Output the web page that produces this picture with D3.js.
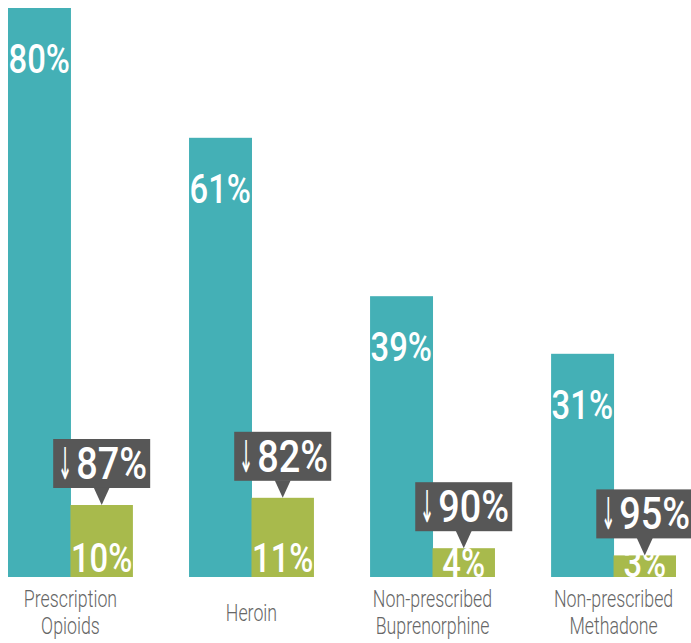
<!DOCTYPE html>
<html>
<head>
<meta charset="utf-8">
<script src="https://cdn.jsdelivr.net/npm/d3@7"></script>
<style>
  body { margin: 0; background: #fff; }
  text { font-family: Roboto, "Open Sans", sans-serif; }
</style>
</head>
<body>
<svg id="chart"></svg>
<script>
// data
const categories = ["Prescription Opioids", "Heroin", "Non-prescribed Buprenorphine", "Non-prescribed Methadone"];
const beforeValues = [80, 61, 39, 31];
const afterValues = [10, 11, 4, 3];
const dropValues = [87, 82, 90, 95];

const width = 691;
const height = 643;
const teal = '#44b0b6';
const green = '#a8ba4c';
const boxColor = '#575757';

const svg = d3.select('#chart')
    .attr('width', width)
    .attr('height', height);

const x = d3.scaleBand()
    .domain(categories)
    .range([8, 676])
    .paddingInner(0.31);

const xs = d3.scaleBand()
    .domain(['before', 'after'])
    .range([0, x.bandwidth()]);

const y = d3.scaleLinear()
    .domain([0, 80])
    .range([577, 1]);

// the picture is cut off a few pixels above the tallest bar
const plotTop = 8;
svg.append('clipPath').attr('id', 'clip')
    .append('rect')
    .attr('x', 0)
    .attr('y', plotTop)
    .attr('width', width)
    .attr('height', y(0) - plotTop);

const plot = svg.append('g').attr('clip-path', 'url(#clip)');

function scaledText(sel, cx, by, sx) {
    return sel.append('text')
        .attr('transform', `translate(${cx},${by}) scale(${sx},1)`)
        .attr('text-anchor', 'middle');
}

categories.forEach(function(cat, i) {
    const bx = x(cat) + xs('before');
    const ax = x(cat) + xs('after');
    const bw = xs.bandwidth();

    plot.append('rect')
        .attr('x', bx)
        .attr('y', y(beforeValues[i]))
        .attr('width', bw + 0.5)
        .attr('height', y(0) - y(beforeValues[i]))
        .attr('fill', teal);

    plot.append('rect')
        .attr('x', ax)
        .attr('y', y(afterValues[i]))
        .attr('width', bw)
        .attr('height', y(0) - y(afterValues[i]))
        .attr('fill', green);

    // value labels
    scaledText(plot, bx + bw / 2, Math.max(y(beforeValues[i]), plotTop) + 65, 0.8)
        .attr('fill', '#fff')
        .style('font-size', '41px')
        .style('font-weight', 500)
        .text(beforeValues[i] + '%');

    const gh = y(0) - y(afterValues[i]);
    scaledText(plot, ax + bw / 2, gh < 35 ? y(0) : y(0) - 5, 0.8)
        .attr('fill', '#fff')
        .style('font-size', '41px')
        .style('font-weight', 500)
        .text(afterValues[i] + '%');

    // callout with the drop
    const cx = ax + bw / 2;
    const tip = y(afterValues[i]);
    const boxW = 97, boxH = 49, tri = 17;
    const boxTop = tip - tri - boxH;
    const callout = svg.append('g');
    callout.append('rect')
        .attr('x', cx - boxW / 2)
        .attr('y', boxTop)
        .attr('width', boxW)
        .attr('height', boxH)
        .attr('fill', boxColor);
    callout.append('path')
        .attr('d', `M${cx - 8},${boxTop + boxH - 0.5}L${cx + 8},${boxTop + boxH - 0.5}L${cx},${tip}Z`)
        .attr('fill', boxColor);
    scaledText(callout, cx - boxW / 2 + 12, boxTop + 40, 0.4)
        .attr('fill', '#fff')
        .style('font-family', '"DejaVu Sans"')
        .style('font-size', '44px')
        .text('↓');
    scaledText(callout, cx + 10, boxTop + 40, 0.86)
        .attr('fill', '#fff')
        .style('font-size', '44px')
        .style('font-weight', 500)
        .text(dropValues[i] + '%');

    // category label
    const words = cat.split(' ');
    const lines = words.length > 1 ? [words[0], words.slice(1).join(' ')] : words;
    const first = 620.5 - (lines.length - 1) * 13.5;
    const t = scaledText(svg, x(cat) + x.bandwidth() / 2, first, 0.74)
        .attr('fill', '#666')
        .style('font-size', '24px')
        .style('font-weight', 300);
    lines.forEach(function(line, j) {
        t.append('tspan')
            .attr('x', 0)
            .attr('dy', j === 0 ? 0 : 27)
            .text(line);
    });
});
</script>
</body>
</html>
